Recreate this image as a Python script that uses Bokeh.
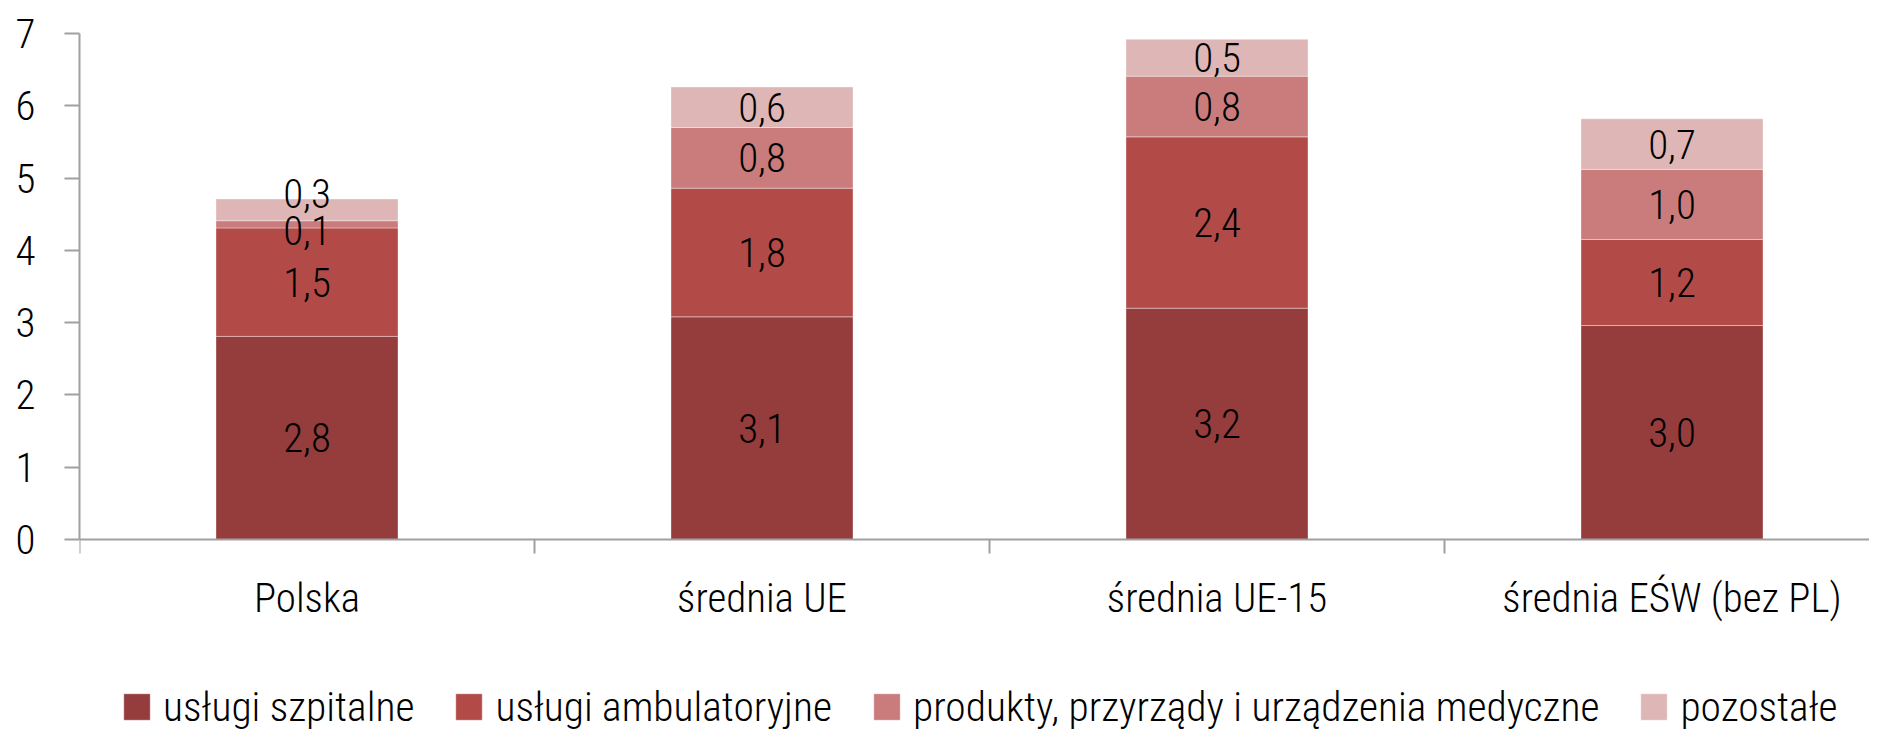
from bokeh.plotting import figure
from bokeh.models import (Range1d, FixedTicker, Legend, LegendItem, ColumnDataSource)
from bokeh.core.properties import value
from bokeh.embed import file_html
from bokeh.resources import INLINE

categories = ["Polska", "średnia UE", "średnia UE-15", "średnia EŚW (bez PL)"]
series_names = ["usługi szpitalne", "usługi ambulatoryjne",
                "produkty, przyrządy i urządzenia medyczne", "pozostałe"]
szpitalne = [2.81, 3.08, 3.20, 2.96]
ambulatoryjne = [1.50, 1.78, 2.37, 1.19]
produkty = [0.10, 0.84, 0.84, 0.97]
pozostale = [0.30, 0.56, 0.51, 0.70]
y_ticks = [0, 1, 2, 3, 4, 5, 6, 7]

colors = ["#953c3c", "#b24b48", "#c97c7b", "#dfb6b6"]
FONT = "Roboto Condensed Light, Roboto Condensed, Liberation Sans Narrow, Roboto"
FS = "41px"

W, H = 1869, 731
left, top = 79, 33
ppu = 506.0 / 7.0          # pixels per unit on the value axis
below_px = H - top - 506   # room under the zero line for labels and legend
p = figure(width=W, height=H, output_backend="svg", toolbar_location=None,
           x_range=Range1d(0, (W - left) / 455.0),
           y_range=Range1d(-below_px / ppu, 7),
           min_border_left=left, min_border_top=top, min_border_right=0,
           min_border_bottom=0)
p.outline_line_color = None
p.xgrid.visible = False
p.ygrid.visible = False

xs = [i + 0.5 for i in range(len(categories))]
series = [szpitalne, ambulatoryjne, produkty, pozostale]
bottoms = [0.0] * len(categories)
renderers = []
lab_x, lab_y, lab_t, lab_off = [], [], [], []
for si, vals in enumerate(series):
    tops = [b + v for b, v in zip(bottoms, vals)]
    src = ColumnDataSource(dict(x=xs, bottom=bottoms, top=tops))
    r = p.vbar(x="x", bottom="bottom", top="top", width=0.4, source=src,
               fill_color=colors[si], line_color="white", line_alpha=0.35, line_width=1)
    renderers.append(r)
    for ci, v in enumerate(vals):
        lab_x.append(xs[ci])
        lab_y.append(bottoms[ci] + v / 2)
        lab_t.append(f"{v:.1f}".replace(".", ","))
        off = 0
        if ci == 0 and si == 2:
            off = -6
        if ci == 0 and si == 3:
            off = 16
        lab_off.append(off)
    bottoms = tops

p.text(x=lab_x, y=lab_y, text=lab_t, y_offset=[-o for o in lab_off],
       text_align="center", text_baseline="middle",
       text_font=value(FONT), text_font_size=FS, text_color="black")

# axes
AX = "#a0a0a0"
xa = p.xaxis[0]
xa.fixed_location = 0
xa.ticker = FixedTicker(ticks=xs, minor_ticks=list(range(len(categories) + 1)))
xa.major_label_overrides = {x: c for x, c in zip(xs, categories)}
xa.major_tick_line_color = None
xa.major_tick_out = 14
xa.major_tick_in = 0
xa.minor_tick_line_color = AX
xa.minor_tick_line_width = 2
xa.minor_tick_out = 14
xa.minor_tick_in = 0
xa.axis_line_color = AX
xa.axis_line_width = 2
xa.major_label_text_font = FONT
xa.major_label_text_font_size = FS
xa.major_label_text_color = "black"
xa.major_label_standoff = 20

ya = p.yaxis[0]
ya.bounds = (0, 7)
ya.ticker = FixedTicker(ticks=y_ticks)
ya.minor_tick_line_color = None
ya.major_tick_line_color = AX
ya.major_tick_line_width = 2
ya.major_tick_out = 15
ya.major_tick_in = 0
ya.axis_line_color = AX
ya.axis_line_width = 2
ya.major_label_text_font = FONT
ya.major_label_text_font_size = FS
ya.major_label_text_color = "black"
ya.major_label_standoff = 29

legend = Legend(items=[LegendItem(label=n, renderers=[r]) for n, r in zip(series_names, renderers)],
                orientation="horizontal", location=(41, 0),
                glyph_width=33, glyph_height=33, label_standoff=10, spacing=38,
                padding=0, margin=0, border_line_color=None, background_fill_alpha=0,
                label_text_font=FONT, label_text_font_size="41.5px", label_text_color="black",
                label_height=26)
p.add_layout(legend, "center")

open("out.html", "w").write(file_html(p, INLINE))
